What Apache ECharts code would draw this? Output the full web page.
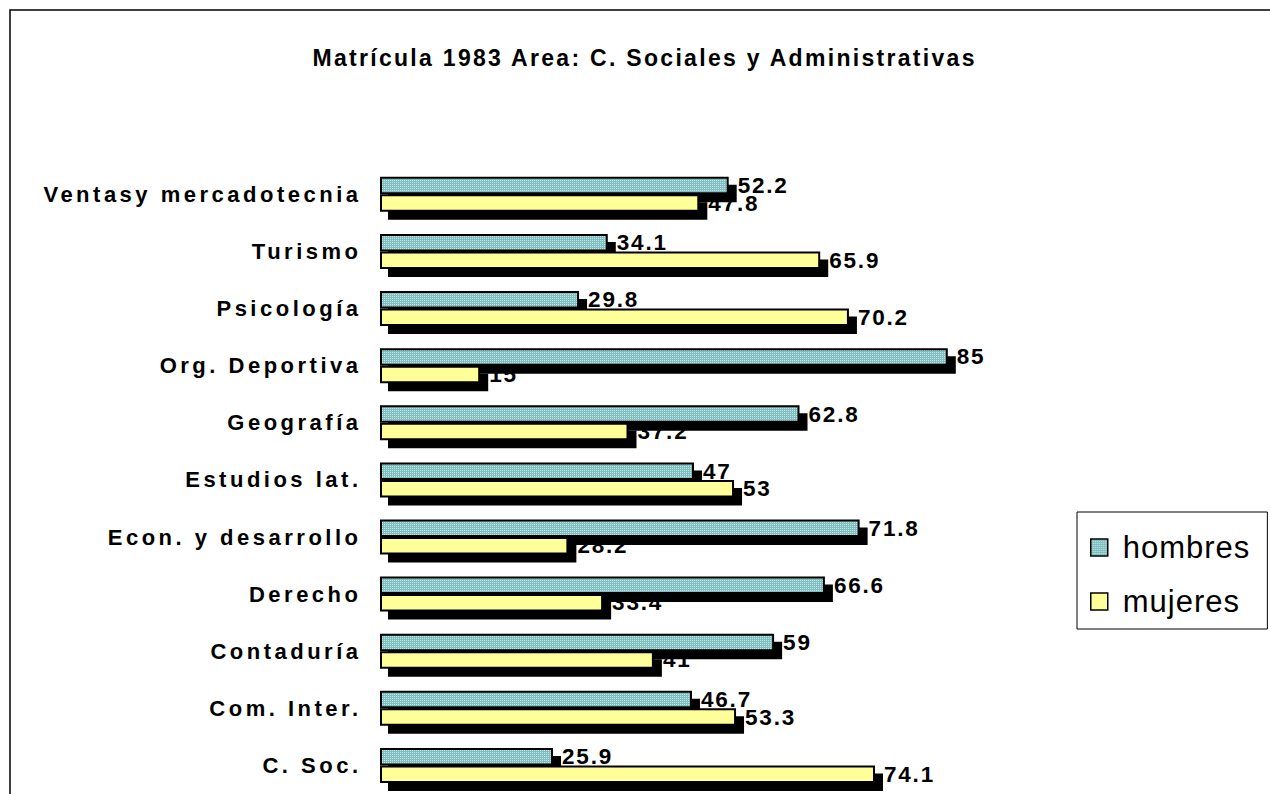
<!DOCTYPE html>
<html>
<head>
<meta charset="utf-8">
<script src="https://cdn.jsdelivr.net/npm/echarts@6/dist/echarts.min.js"></script>
<style>
html,body{margin:0;padding:0;background:#fff;}
#chart{width:1270px;height:794px;}
#chart text[style*="22px"]{letter-spacing:3.5px;}
#chart text[style*="23px"]{letter-spacing:2.3px;}
#chart text[style*="22.5px"]{letter-spacing:1.8px;}
#chart text[style*="31px"]{letter-spacing:1px;}
</style>
</head>
<body>
<div id="chart"></div>
<script>
// Data (listed bottom -> top, as the category axis draws them)
const categories = ['C. Soc.', 'Com. Inter.', 'Contaduría', 'Derecho', 'Econ. y desarrollo', 'Estudios lat.', 'Geografía', 'Org. Deportiva', 'Psicología', 'Turismo', 'Ventasy mercadotecnia'];
const hombres = [25.9, 46.7, 59, 66.6, 71.8, 47, 62.8, 85, 29.8, 34.1, 52.2];
const mujeres = [74.1, 53.3, 41, 33.4, 28.2, 53, 37.2, 15, 70.2, 65.9, 47.8];
const seriesNames = ['hombres', 'mujeres'];
const titleText = 'Matrícula 1983 Area: C. Sociales y Administrativas';

// dotted teal fill
const pc = document.createElement('canvas');
pc.width = 2; pc.height = 2;
const pctx = pc.getContext('2d');
pctx.fillStyle = '#7fbfbf'; pctx.fillRect(0, 0, 2, 2);
pctx.fillStyle = '#c4e6e6'; pctx.fillRect(0, 0, 1, 1);
const tealPattern = { image: pc, repeat: 'repeat', imageWidth: 2, imageHeight: 2 };

const FONT = 'Liberation Sans, Arial, sans-serif';
const barStyle = function (fill) {
  return {
    color: fill,
    borderColor: '#000',
    borderWidth: 2,
    shadowColor: '#000',
    shadowBlur: 0,
    shadowOffsetX: 8,
    shadowOffsetY: 8
  };
};
const labelStyle = {
  show: true,
  position: 'right',
  distance: 9,
  color: '#000',
  fontSize: 22.5,
  fontWeight: 'bold',
  fontFamily: FONT
};

const chart = echarts.init(document.getElementById('chart'), null, { renderer: 'svg' });
chart.setOption({
  animation: false,
  backgroundColor: '#fff',
  title: {
    text: titleText,
    left: 644.6,
    top: 46.5,
    padding: 0,
    textAlign: 'center',
    textStyle: { fontSize: 23, fontWeight: 'bold', color: '#000', fontFamily: FONT }
  },
  graphic: [{
    type: 'rect',
    shape: { x: 10, y: 10, width: 1300, height: 1000 },
    style: { fill: 'none', stroke: '#000', lineWidth: 1.5 },
    silent: true
  }],
  legend: {
    data: seriesNames,
    orient: 'vertical',
    left: 1077,
    top: 512,
    padding: [20, 24, 12, 13],
    itemGap: 23,
    itemWidth: 17,
    itemHeight: 17,
    icon: 'rect',
    borderColor: '#000',
    borderWidth: 1,
    selectedMode: false,
    itemStyle: { borderColor: '#000', borderWidth: 1.5 },
    textStyle: { fontSize: 31, color: '#000', fontFamily: FONT, padding: [0, 0, 0, 10] }
  },
  grid: { left: 380, top: 165.8, width: 668, height: 642.4, containLabel: false },
  xAxis: {
    type: 'value', min: 0, max: 100, show: false
  },
  yAxis: {
    type: 'category',
    data: categories,
    axisLine: { show: false },
    axisTick: { show: false },
    splitLine: { show: false },
    axisLabel: { fontSize: 22, fontWeight: 'bold', color: '#000', fontFamily: FONT, margin: 18.5 }
  },
  series: [
    {
      name: seriesNames[0], type: 'bar', data: hombres,
      barWidth: 17.5, barGap: '0%',
      itemStyle: barStyle(tealPattern),
      label: labelStyle
    },
    {
      name: seriesNames[1], type: 'bar', data: mujeres,
      barWidth: 17.5, barGap: '0%',
      itemStyle: barStyle('#ffff99'),
      label: labelStyle
    }
  ]
});
</script>
</body>
</html>
